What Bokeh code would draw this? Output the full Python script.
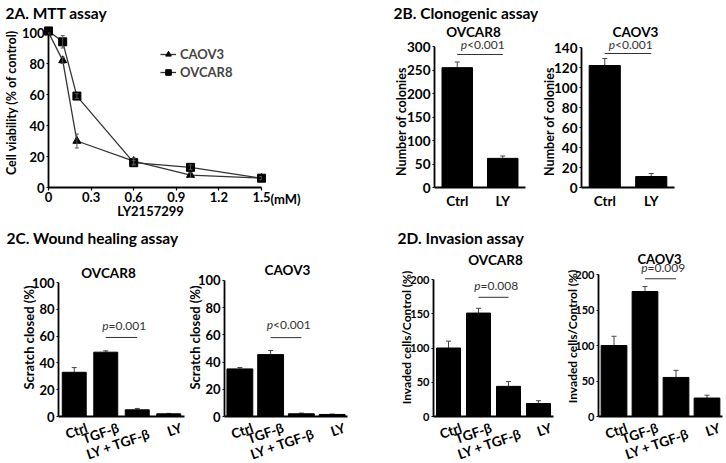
import math
from bokeh.plotting import figure
from bokeh.layouts import column, row
from bokeh.core.properties import value
from bokeh.models import (Range1d, FactorRange, FixedTicker, NumeralTickFormatter,
                          Whisker, TeeHead, Legend, LegendItem, ColumnDataSource)
from bokeh.embed import file_html
from bokeh.resources import INLINE

# ---------------- data ----------------
# 2A MTT assay
dose = [0, 0.1, 0.2, 0.6, 1.0, 1.5]
caov3_mtt = [100, 82, 30, 17, 8, 6]
caov3_mtt_err = [1, 2, 4.5, 2, 1.5, 1]
ovcar8_mtt = [101, 94, 59, 16, 13, 6]
ovcar8_mtt_err = [1, 4, 1.5, 1.5, 1.5, 1]
mtt_xticks = [0, 0.3, 0.6, 0.9, 1.2, 1.5]
mtt_yticks = [0, 20, 40, 60, 80, 100]

# 2B clonogenic assay
clono_cats = ["Ctrl", "LY"]
clono_ovcar8 = [255, 62]
clono_ovcar8_err = [12, 5]
clono_caov3 = [122, 11]
clono_caov3_err = [7, 3]

# 2C wound healing / 2D invasion
treat_cats = ["Ctrl", "TGF-β", "LY + TGF-β", "LY"]
wound_ovcar8 = [33, 48, 5, 2]
wound_ovcar8_err = [3.5, 1, 1, 0.3]
wound_caov3 = [35, 45.5, 2, 1.5]
wound_caov3_err = [1, 3, 0.5, 0.3]
inv_ovcar8 = [100, 151, 44, 19]
inv_ovcar8_err = [10, 7, 7, 4]
inv_caov3 = [100, 176, 55, 26]
inv_caov3_err = [13, 7, 10, 4]

FONT = "Lato"


def make_fig(x0, y0, width, height, l, r, t, b, xr, yr, tick_size, categorical=None):
    if categorical is not None:
        x_range = FactorRange(factors=categorical, range_padding=0)
    else:
        x_range = Range1d(*xr)
    p = figure(width=width, height=height, x_range=x_range, y_range=Range1d(*yr),
               min_border_left=l, min_border_right=r, min_border_top=t,
               min_border_bottom=b, output_backend="svg", toolbar_location=None,
               title=None)
    p.xgrid.visible = False
    p.ygrid.visible = False
    p.outline_line_color = None
    for axs in (p.xaxis, p.yaxis):
        axs.axis_line_width = 1.8
        axs.axis_line_color = "black"
        axs.major_tick_line_color = "black"
        axs.major_tick_line_width = 1.2
        axs.major_tick_in = 0
        axs.major_tick_out = 2
        axs.minor_tick_line_color = None
        axs.major_label_text_font = FONT
        axs.major_label_text_font_style = "bold"
        axs.major_label_text_font_size = tick_size
        axs.major_label_text_color = "black"
        axs.major_label_standoff = 2
    g = dict(x0=x0, y0=y0, fl=l, fr=width - r, ft=t, fb=height - b,
             xr=xr, yr=yr)
    return p, g


def to_data(g, gx, gy):
    lx = gx - g["x0"]
    ly = gy - g["y0"]
    xs, xe = g["xr"]
    ys, ye = g["yr"]
    x = xs + (lx - g["fl"]) / (g["fr"] - g["fl"]) * (xe - xs)
    y = ys + (g["fb"] - ly) / (g["fb"] - g["ft"]) * (ye - ys)
    return x, y


def txt_at(p, x, y, text, size="13px", style="bold", align="center",
           baseline="middle", angle=0.0, color="black", dx=0):
    p.text(x=[x], y=[y], text=[text], x_offset=dx, text_font=value(FONT),
           text_font_size=value(size), text_font_style=value(style),
           text_align=value(align), text_baseline=value(baseline), angle=angle,
           text_color=color, level="overlay")


def txt(p, g, gx, gy, text, **kw):
    x, y = to_data(g, gx, gy)
    txt_at(p, x, y, text, **kw)


def pval(p, i0, i1, yline, ytext, label):
    x0 = i0 + 0.5
    x1 = i1 + 0.5
    p.segment(x0=[x0], y0=[yline], x1=[x1], y1=[yline],
              line_color="#333333", line_width=1)
    xc = (x0 + x1) / 2
    txt_at(p, xc, ytext, "p", size="12px", style="italic", align="right",
           baseline="bottom", color="#333333", dx=-13)
    txt_at(p, xc, ytext, label, size="12px", style="normal", align="left",
           baseline="bottom", color="#333333", dx=-13)


def bar_fig(cats, vals, errs, x0, y0, width, height, l, r, t, b, ytop, yend, ystep,
            bar_w, tick_size, rotate, axis_y=None, drops=None):
    p, g = make_fig(x0, y0, width, height, l, r, t, b, (0, len(cats)), (0, yend),
                    tick_size, categorical=cats)
    p.vbar(x=cats, top=vals, width=bar_w, fill_color="black", line_color="black")
    src = ColumnDataSource(dict(x=cats, lower=vals,
                                upper=[v + e for v, e in zip(vals, errs)]))
    p.add_layout(Whisker(base="x", lower="lower", upper="upper", source=src,
                         lower_head=None,
                         upper_head=TeeHead(size=5, line_color="#444444", line_width=1),
                         line_color="#444444", line_width=1))
    p.yaxis.ticker = FixedTicker(ticks=list(range(0, ytop + 1, ystep)))
    p.yaxis.bounds = (0, ytop)
    p.xaxis.major_tick_line_color = None
    p.xaxis.major_tick_out = 0
    if rotate:
        p.xaxis.major_label_text_color = None
        for i, c in enumerate(cats):
            # right-top corner of each rotated label, just right of the bar centre
            gx, gy = to_data(g, 0, axis_y + 3 + drops[i])
            txt_at(p, i + 0.5, gy, c, size="13.5px", align="right", baseline="top",
                   angle=0.33, dx=10)
    else:
        p.xaxis.major_label_standoff = 5
    return p, g


# ---------------- 2A ----------------
A, gA = make_fig(0, 0, 375, 222, 48, 114, 32, 35, (0, 1.5), (0, 100), "13px")
A.xaxis.ticker = FixedTicker(ticks=mtt_xticks)
A.xaxis.formatter = NumeralTickFormatter(format="0.[0]")
A.xaxis.major_tick_out = 3
A.xaxis.major_label_standoff = 1
A.yaxis.ticker = FixedTicker(ticks=mtt_yticks)

src_c = ColumnDataSource(dict(x=dose, y=caov3_mtt,
                              lo=[v - e for v, e in zip(caov3_mtt, caov3_mtt_err)],
                              hi=[v + e for v, e in zip(caov3_mtt, caov3_mtt_err)]))
src_o = ColumnDataSource(dict(x=dose, y=ovcar8_mtt,
                              lo=[v - e for v, e in zip(ovcar8_mtt, ovcar8_mtt_err)],
                              hi=[v + e for v, e in zip(ovcar8_mtt, ovcar8_mtt_err)]))
for s in (src_c, src_o):
    A.add_layout(Whisker(base="x", lower="lo", upper="hi", source=s, level="overlay",
                         lower_head=TeeHead(size=4, line_color="#555555", line_width=1),
                         upper_head=TeeHead(size=4, line_color="#555555", line_width=1),
                         line_color="#555555", line_width=1))
lc = A.line("x", "y", source=src_c, line_color="#333333", line_width=1.3, level="overlay")
mc = A.scatter("x", "y", source=src_c, marker="triangle", size=8,
               fill_color="black", line_color="black", level="overlay")
lo_ = A.line("x", "y", source=src_o, line_color="#333333", line_width=1.3, level="overlay")
mo = A.scatter("x", "y", source=src_o, marker="square", size=8,
               fill_color="black", line_color="black", level="overlay")
leg = Legend(items=[LegendItem(label="CAOV3", renderers=[lc, mc]),
                    LegendItem(label="OVCAR8", renderers=[lo_, mo])],
             location=(112, 107), border_line_color=None,
             background_fill_alpha=0, label_text_font=FONT,
             label_text_font_style="bold", label_text_font_size="13px",
             glyph_width=16, glyph_height=14, label_standoff=4, spacing=2,
             padding=0, margin=0, label_height=14)
A.add_layout(leg)
txt(A, gA, 270, 198, "(mM)", align="left")
txt(A, gA, 150, 210, "LY2157299")
txt(A, gA, 11, 102, "Cell viability (% of control)", size="12.5px", angle=math.pi / 2)
txt(A, gA, 5, 12, "2A. MTT assay", size="15.5px", align="left")

# ---------------- 2B ----------------
B1, gB1 = bar_fig(clono_cats, clono_ovcar8, clono_ovcar8_err, 375, 0, 163, 222,
                  59, 13, 32, 35, 300, 329.8, 50, 0.67, "13.5px", False)
pval(B1, 0, 1, 283, 288, "<0.001")
txt(B1, gB1, 473, 31, "OVCAR8", size="13.5px")
txt(B1, gB1, 393, 12, "2B. Clonogenic assay", size="15.5px", align="left")
txt(B1, gB1, 401, 121, "Number of colonies", size="12.5px", angle=math.pi / 2)

B2, gB2 = bar_fig(clono_cats, clono_caov3, clono_caov3_err, 538, 0, 188, 222,
                  43, 52, 32, 35, 140, 155, 20, 0.67, "13.5px", False)
pval(B2, 0, 1, 134, 136, "<0.001")
txt(B2, gB2, 635, 31, "CAOV3", size="13.5px")
txt(B2, gB2, 549, 121, "Number of colonies", size="12.5px", angle=math.pi / 2)

# ---------------- 2C ----------------
label_drops = [0, 0, 6, 0]

C1, gC1 = bar_fig(treat_cats, wound_ovcar8, wound_ovcar8_err, 0, 222, 185, 241,
                  58, 1, 52, 47, 100, 106.0, 20, 0.76, "13px", True, axis_y=416,
                  drops=label_drops)
pval(C1, 1, 2, 59, 62, "=0.001")
txt(C1, gC1, 108, 272, "OVCAR8", size="13.5px")
txt(C1, gC1, 6, 237, "2C. Wound healing assay", size="15.5px", align="left")
txt(C1, gC1, 28, 337, "Scratch closed (%)", size="13px", angle=math.pi / 2)

C2, gC2 = bar_fig(treat_cats, wound_caov3, wound_caov3_err, 185, 222, 210, 241,
                  39, 48, 52, 47, 100, 104.4, 20, 0.84, "13px", True, axis_y=416,
                  drops=label_drops)
pval(C2, 1, 2, 58, 62, "<0.001")
txt(C2, gC2, 287, 269, "CAOV3", size="13.5px")
txt(C2, gC2, 194, 337, "Scratch closed (%)", size="13px", angle=math.pi / 2)

# ---------------- 2D ----------------
D1, gD1 = bar_fig(treat_cats, inv_ovcar8, inv_ovcar8_err, 395, 222, 167, 241,
                  38, 9, 52, 47, 200, 207.3, 50, 0.8, "11px", True, axis_y=416,
                  drops=label_drops)
pval(D1, 1, 2, 174, 180, "=0.008")
txt(D1, gD1, 495, 259, "OVCAR8", size="13.5px")
txt(D1, gD1, 397, 237, "2D. Invasion assay", size="15.5px", align="left")
txt(D1, gD1, 406, 337, "Invaded cells/Control (%)", size="12px", angle=math.pi / 2)

D2, gD2 = bar_fig(treat_cats, inv_caov3, inv_caov3_err, 562, 222, 164, 241,
                  36, 4, 52, 47, 200, 200, 50, 0.83, "11px", True, axis_y=416,
                  drops=label_drops)
pval(D2, 1, 2, 194, 199, "=0.009")
txt(D2, gD2, 659, 258, "CAOV3", size="13px")
txt(D2, gD2, 572, 336, "Invaded cells/Control (%)", size="12px", angle=math.pi / 2)

layout = column(row(A, B1, B2), row(C1, C2, D1, D2))
open("out.html", "w").write(file_html(layout, INLINE))
